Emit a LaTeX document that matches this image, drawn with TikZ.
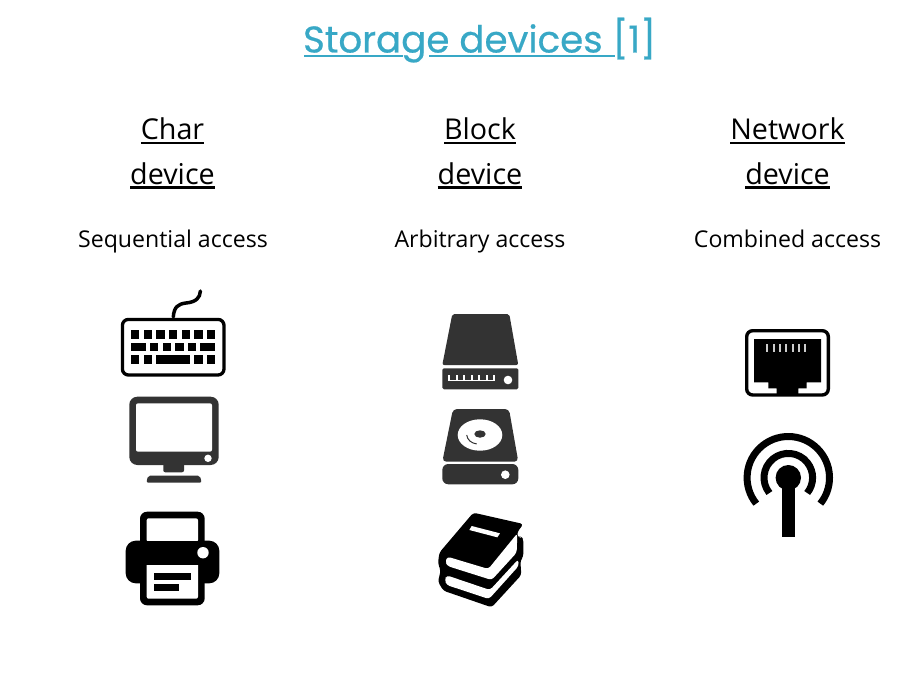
\documentclass[tikz,border=0pt]{standalone}
\usepackage{fontspec}
\setmainfont{Open Sans}
\newfontfamily\titlefont[FakeBold=0.5]{Poppins}
\definecolor{titleblue}{HTML}{38A8C6}
\definecolor{icondark}{HTML}{333333}
\newcommand\ulx[3]{\setbox0\hbox{#1}\leavevmode\rlap{\rule[#2]{\wd0}{#3}}\box0}
\tikzset{
  heading/.style={inner sep=0pt,anchor=base,font=\fontsize{28.7}{28.7}\selectfont,text=black},
  sublabel/.style={inner sep=0pt,anchor=base,font=\fontsize{23.1}{23.1}\selectfont,text=black},
}
\begin{document}
\begin{tikzpicture}[x=1pt,y=1pt,yscale=-1]
\useasboundingbox (0,0) rectangle (923,698);
\fill[white] (0,0) rectangle (923,698);
% texts
\node[inner sep=0pt,anchor=base,text=titleblue,font=\titlefont\fontsize{37.2}{37.2}\selectfont] (title) at (479.5,52.5) {Storage devices [1]};
\fill[titleblue] (304.3,54.6) rectangle (403.3,57.4);
\fill[titleblue] (429,54.6) rectangle (615,57.4);
\node[heading] (h1a) at (172.5,139.5) {\ulx{Char}{-4.6pt}{2.2pt}};
\node[heading] (h1b) at (172.5,184) {\ulx{device}{-4.6pt}{2.2pt}};
\node[heading] (h2a) at (480,139.5) {\ulx{Block}{-4.6pt}{2.2pt}};
\node[heading] (h2b) at (480,184) {\ulx{device}{-4.6pt}{2.2pt}};
\node[heading] (h3a) at (787.5,139.5) {\ulx{Network}{-4.6pt}{2.2pt}};
\node[heading] (h3b) at (787.5,184) {\ulx{device}{-4.6pt}{2.2pt}};
\node[sublabel] (s1) at (173,247) {Sequential access};
\node[sublabel] (s2) at (480,247) {Arbitrary access};
\node[sublabel] (s3) at (787.5,247) {Combined access};
% keyboard
\draw[line width=3.3pt,rounded corners=6pt] (122.4,319.4) rectangle (224,375);
\draw[line width=3.5pt,line cap=round] (173.3,317) .. controls (174,307) and (178,304) .. (186,303) .. controls (196,302) and (200,298) .. (200.4,291);
\foreach \a/\b in {131/139.3,143.7/152,156.3/164.7,169/177.3,181.7/190,194/202.7,206.7/215.3}
  \fill (\a,330) rectangle (\b,338.7);
\foreach \a/\b in {131/145.7,150/158.3,162.7/171,175.3/183.7,187.7/196.3,200.3/215.3}
  \fill (\a,342.7) rectangle (\b,351.3);
\foreach \a/\b in {131/139.3,143.7/152,156.3/190,194/202.7,206.7/215.3}
  \fill (\a,355.3) rectangle (\b,364);
% monitor
\fill[icondark,rounded corners=8pt] (129.3,396.7) rectangle (218.7,465);
\fill[white,rounded corners=2pt] (136,403.3) rectangle (212,451.7);
\fill[white] (208,458.3) circle[radius=3.7pt];
\fill[icondark,rounded corners=2pt] (163.3,460) rectangle (184,472.3);
\fill[icondark,rounded corners=2pt] (146.3,482.7) -- (148,475.7) -- (200,475.7) -- (201.7,482.7) -- cycle;
% printer
\fill[rounded corners=7pt] (140,511.7) rectangle (204.7,605.3);
\fill[rounded corners=10pt] (125.7,540.7) rectangle (219.3,583.3);
\fill[white,rounded corners=2pt] (146.7,542) -- (146.7,518.3) -- (198,518.3) -- (198,542) -- cycle;
\fill[black] (140,540.7) rectangle (204.7,546);
\fill[white,rounded corners=2pt] (146.7,563) -- (146.7,598.7) -- (198,598.7) -- (198,563) -- cycle;
\fill[black] (140,560) rectangle (204.7,565.3);
\fill (154.3,573.3) rectangle (190.7,580.3);
\fill (154.3,584) rectangle (179.3,591);
\fill[white] (203,552.7) circle[radius=5.7pt];
% ssd
\fill[icondark,rounded corners=2pt] (452.3,314) -- (509.3,314) -- (518.3,365) -- (442.3,365) -- cycle;
\fill[icondark,rounded corners=1.5pt] (442.3,368.3) rectangle (518.3,389.3);
\fill[white] (448.3,379.6) rectangle (495,381.3);
\foreach \t in {448.3,455.8,463.3,470.8,478.3,485.8,493.3}
  \fill[white] (\t,375.3) rectangle ++(1.7,5);
\fill[white] (508,380) circle[radius=4.3pt];
% hdd
\fill[icondark,rounded corners=4pt] (453,409) -- (509,409) -- (518.3,461.7) -- (442.3,461.7) -- cycle;
\fill[icondark,rounded corners=6pt] (442.3,464) rectangle (518.3,484.3);
\fill[white] (505.3,474.7) circle[radius=4.3pt];
\fill[white] (480,435) ellipse[x radius=22.3pt,y radius=15.7pt];
\fill[icondark] (480,434) ellipse[x radius=5.7pt,y radius=3.7pt];
\draw[icondark,line width=1pt] (466.7,435) .. controls (467.5,440) and (471,443) .. (476.7,444);
% books
\begin{scope}[shift={(420,500)},x=0.3333pt,y=0.3333pt]
\fill[rounded corners=3pt] (160,38) -- (310,72) -- (291,98) -- (294,114) -- (302,110) -- (310,116) -- (310,170) -- (301,182) -- (304,225) -- (215,322) -- (70,272) -- (54,245) -- (62,212) -- (54,190) -- (58,158) -- cycle;
\fill[white,rounded corners=3pt] (82,170) -- (205,207) -- (292,100) -- (290,158) -- (215,240) -- (82,198) -- (76,185) -- cycle;
\fill[white,rounded corners=3pt] (80,226) -- (210,270) -- (295,178) -- (296,198) -- (207,297) -- (80,255) -- (74,240) -- cycle;
\fill[white] (155,78) -- (240,100) -- (232,112) -- (148,90) -- cycle;
\end{scope}
% rj45
\draw[line width=3.4pt,rounded corners=6pt] (746.7,330.7) rectangle (828.3,395);
\fill (754,339) -- (821,339) -- (821,382.3) -- (806.7,382.3) -- (806.7,388.3) -- (798.3,388.3) -- (798.3,395) -- (776.7,395) -- (776.7,388.3) -- (768.3,388.3) -- (768.3,382.3) -- (754,382.3) -- cycle;
\foreach \t in {767.3,773.6,780,786.3,792.6,798.8,805.3}
  \fill[white!80!black] (\t-0.9,344) rectangle (\t+0.9,352.3);
% antenna
\fill (788.3,477.7) circle[radius=12.7pt];
\fill (781.7,477.7) rectangle (795,536.7);
\draw[line width=7pt] (788.3,477.7) ++(141:24.3pt) arc[start angle=141,end angle=399,radius=24.3pt];
\draw[line width=7pt] (788.3,477.7) ++(141:41.2pt) arc[start angle=141,end angle=399,radius=41.2pt];
\end{tikzpicture}
\end{document}
